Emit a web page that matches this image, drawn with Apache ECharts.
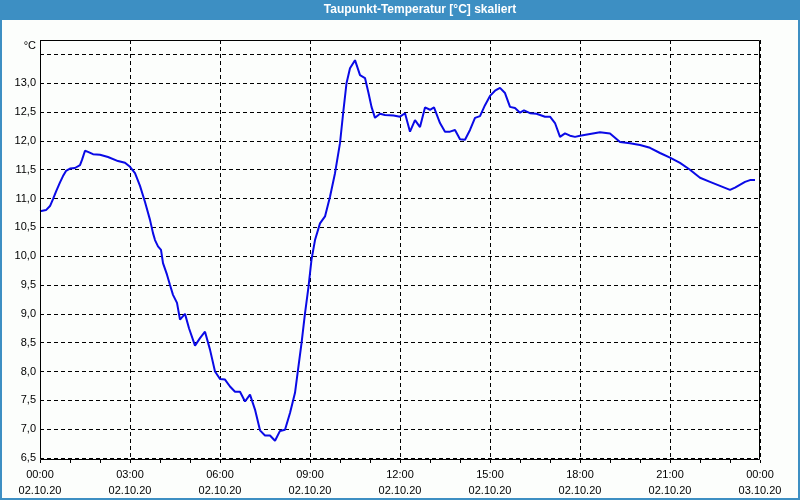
<!DOCTYPE html>
<html>
<head>
<meta charset="utf-8">
<script src="https://cdn.jsdelivr.net/npm/echarts@6/dist/echarts.min.js"></script>
<style>html,body{margin:0;padding:0;background:#fcfefc}#c{width:800px;height:500px}</style>
</head>
<body>
<div id="c"></div>
<script>
// Time in minutes since 02.10.20 00:00
const minutes = [0,12,20,26,32,40,46,52,60,70,80,84,90,96,106,120,136,156,170,180,190,200,210,220,226,230,236,242,246,254,260,266,274,280,290,298,310,320,330,340,350,360,370,380,390,400,410,420,430,440,450,460,470,480,490,500,510,516,523,530,537,543,550,560,570,580,590,600,607,613,620,630,640,650,657,663,670,680,690,707,720,730,740,750,760,770,780,788,800,810,820,830,840,850,860,870,880,890,900,910,920,930,940,950,960,968,980,993,1010,1020,1030,1040,1050,1060,1070,1080,1100,1120,1140,1160,1180,1200,1220,1240,1260,1280,1300,1320,1340,1360,1380,1390,1410,1420,1430];
// Dew point temperature in °C
const dewPoint = [10.78,10.80,10.87,10.99,11.12,11.28,11.39,11.48,11.52,11.53,11.58,11.67,11.83,11.81,11.77,11.76,11.72,11.65,11.62,11.55,11.44,11.22,10.94,10.63,10.40,10.28,10.17,10.11,9.88,9.68,9.50,9.33,9.19,8.90,9.00,8.75,8.45,8.58,8.69,8.38,8.00,7.87,7.86,7.74,7.65,7.65,7.48,7.60,7.34,6.98,6.89,6.89,6.80,6.97,6.99,7.28,7.63,8.03,8.49,9.01,9.47,9.94,10.28,10.57,10.69,11.03,11.44,11.96,12.54,13.00,13.26,13.40,13.14,13.09,12.83,12.59,12.40,12.47,12.45,12.44,12.42,12.48,12.16,12.36,12.24,12.58,12.54,12.58,12.31,12.16,12.16,12.19,12.03,12.02,12.19,12.40,12.43,12.62,12.78,12.87,12.92,12.83,12.59,12.57,12.49,12.53,12.48,12.47,12.42,12.42,12.31,12.07,12.13,12.09,12.07,12.09,12.12,12.15,12.13,11.98,11.96,11.93,11.88,11.79,11.71,11.62,11.50,11.36,11.29,11.22,11.15,11.19,11.29,11.32,11.32];
// Tick labels
const timeLabels = ['00:00','03:00','06:00','09:00','12:00','15:00','18:00','21:00','00:00'];
const dateLabels = ['02.10.20','02.10.20','02.10.20','02.10.20','02.10.20','02.10.20','02.10.20','02.10.20','03.10.20'];
const titleText = 'Taupunkt-Temperatur [°C] skaliert';
const unitText = '°C';

const chart = echarts.init(document.getElementById('c'), null, {renderer: 'canvas'});
const font = 'Liberation Sans, Arial, sans-serif';
const data = minutes.map((m, i) => [m, dewPoint[i]]);

chart.setOption({
  animation: false,
  backgroundColor: '#fcfefc',
  graphic: [
    {type: 'rect', z: 100, shape: {x: 1, y: 1, width: 798, height: 498}, style: {fill: 'none', stroke: '#3d8fc3', lineWidth: 2}},
    {type: 'rect', z: 101, shape: {x: 0, y: 0, width: 800, height: 20}, style: {fill: '#3d8fc3'}},
    {type: 'text', z: 102, x: 420, y: 10, style: {text: titleText, fill: '#ffffff', font: 'bold 12px ' + font, align: 'center', verticalAlign: 'middle'}},
    {type: 'rect', z: 50, shape: {x: 40.5, y: 40.5, width: 719, height: 419}, style: {fill: 'none', stroke: '#000', lineWidth: 1}}
  ],
  grid: {left: 40, right: 40, top: 40, bottom: 42, show: false},
  xAxis: {
    type: 'value', min: 0, max: 1440, interval: 180, offset: 2,
    axisLine: {show: false},
    axisTick: {show: true, length: 3, lineStyle: {color: '#000'}},
    minorTick: {show: true, splitNumber: 3, length: 3, lineStyle: {color: '#000'}},
    splitLine: {show: true, lineStyle: {color: '#000', type: [4, 3], width: 1}},
    axisLabel: {
      margin: 7, color: '#000', fontFamily: font, fontSize: 11, lineHeight: 16,
      formatter: v => { const i = Math.round(v / 180); return timeLabels[i] + '\n' + dateLabels[i]; }
    }
  },
  yAxis: {
    type: 'value', min: 6.5, max: 13.75, interval: 0.5,
    name: unitText, nameLocation: 'end', nameGap: -6,
    nameTextStyle: {align: 'right', verticalAlign: 'middle', padding: [0, 4, 0, 0], color: '#000', fontFamily: font, fontSize: 11},
    axisLine: {show: false},
    axisTick: {show: false},
    splitLine: {show: true, lineStyle: {color: '#000', type: [4, 3], width: 1}},
    axisLabel: {
      margin: 4, color: '#000', fontFamily: font, fontSize: 11,
      formatter: v => (v > 13.4) ? '' : v.toFixed(1).replace('.', ',')
    }
  },
  series: [{
    type: 'line', data: data, showSymbol: false, smooth: false,
    lineStyle: {color: '#0a0ae6', width: 2}, z: 10
  }]
});
</script>
</body>
</html>
